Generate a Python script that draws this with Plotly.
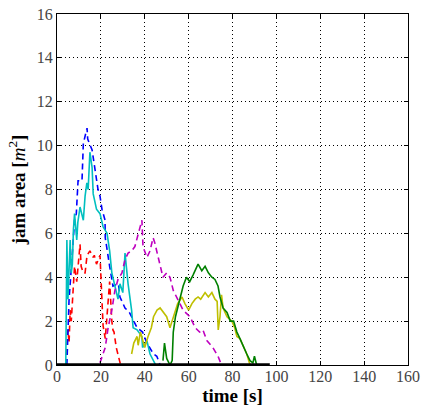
import plotly.graph_objects as go

# ---- data ----
red_t = [4, 5, 5.5, 6, 6.5, 7, 8, 9, 10, 10.5, 11, 12, 12.8, 13.7, 15, 16.5, 17, 18, 19.6, 20.5, 21, 22, 23, 24, 25, 25.5, 26, 27, 28.5, 29]
red_y = [0, 1.6, 1.0, 2.5, 2.0, 3.0, 4.5, 3.8, 5.0, 5.5, 4.5, 4.2, 4.2, 5.0, 5.2, 4.9, 5.0, 4.6, 5.0, 2.5, 1.8, 1.2, 2.5, 3.8, 2.0, 1.6, 1.5, 0.8, 0.2, 0]

blue_t = [4.5, 5, 5.5, 6.8, 7.3, 8, 8.8, 9.6, 11.4, 12, 13.7, 14, 16, 18, 18.7, 19.6, 20.5, 21.9, 22, 24, 25.5, 28, 28.7, 31, 33, 36.5, 39, 41, 44, 45.5, 47]
blue_y = [0, 1.5, 3.0, 4.8, 5.7, 6.6, 6.9, 8.4, 8.4, 10.1, 10.8, 10.3, 9.8, 8.4, 8.0, 7.7, 7.1, 6.6, 5.8, 4.5, 3.6, 3.7, 3.1, 2.6, 2.4, 1.7, 1.5, 1.0, 0.5, 0.4, 0]

cyan_t = [4, 4.5, 5, 5.5, 6, 6.5, 7, 7.5, 8, 9, 9.5, 10.5, 11, 12, 12.8, 13.6, 14.2, 15, 16, 16.5, 18, 19.6, 21, 22.8, 24, 25, 26.4, 27.8, 28.7, 30, 31, 32.4, 34, 34.7, 36.5, 38.7, 39, 41, 42.4, 44, 45]
cyan_y = [0, 5.7, 3.0, 4.9, 5.7, 4.2, 4.6, 6.2, 6.9, 5.7, 6.5, 7.2, 7.0, 6.6, 7.7, 8.3, 8.0, 9.7, 9.0, 7.8, 7.1, 6.9, 6.3, 6.0, 5.2, 4.2, 3.6, 3.0, 3.7, 3.3, 5.1, 3.7, 2.5, 1.7, 1.6, 1.3, 0.8, 1.1, 0.5, 0.2, 0]

mag_t = [19.6, 20.5, 22, 23.3, 25, 26.4, 27.8, 29.6, 31, 32.4, 34, 35.5, 37.8, 38.7, 39.2, 41, 42.4, 43.8, 44.5, 45.6, 47, 48.3, 50, 51.5, 53, 55, 57.5, 60.6, 63, 65, 66.5, 68.4, 71, 73.4, 75]
mag_y = [0.1, 0.4, 0.8, 1.7, 2.5, 3.4, 3.9, 4.2, 4.8, 5.1, 5.2, 5.4, 6.3, 6.6, 5.4, 4.9, 5.2, 5.8, 5.6, 5.1, 4.5, 4.0, 4.2, 4.0, 3.4, 3.0, 2.5, 2.2, 1.7, 1.5, 1.6, 1.1, 0.8, 0.4, 0]

olive_t = [34, 35, 36.5, 37, 38, 39, 40, 41.5, 43, 44, 45.6, 47, 48.3, 50, 51.5, 53, 55, 57, 58.3, 60, 61.5, 63, 64.3, 65.5, 67.5, 69, 70.6, 72, 73, 73.5, 74.3, 75, 75.7, 77.5, 79.7, 81, 82, 83.4, 85, 86.5, 88]
olive_y = [0.5, 1.0, 1.3, 0.9, 1.5, 1.2, 0.8, 1.3, 1.7, 2.2, 2.5, 2.6, 2.4, 2.2, 1.7, 2.2, 2.8, 3.1, 2.8, 2.5, 2.8, 3.0, 3.1, 3.0, 3.3, 3.1, 3.3, 3.0, 2.9, 1.6, 2.2, 3.2, 2.6, 2.2, 2.0, 1.7, 1.3, 1.2, 0.8, 0.5, 0]

green_t = [48.3, 49, 50, 51.5, 52.5, 53, 54, 55, 56, 57.5, 59, 60.5, 62, 63.6, 64.3, 66, 67.5, 69, 70.6, 72, 73.4, 74.3, 75.7, 77.5, 79, 80.5, 82, 83.4, 85, 86.5, 88, 89.3, 90, 91]
green_y = [0.2, 1.0, 0.3, 0, 0.2, 1.5, 2.2, 2.6, 3.0, 3.6, 4.0, 3.8, 4.1, 4.5, 4.6, 4.3, 4.5, 4.2, 4.0, 3.9, 3.6, 3.1, 2.6, 2.4, 2.0, 2.0, 1.5, 1.2, 0.8, 0.5, 0.2, 0.1, 0.4, 0]

black_t = [0, 97]
black_y = [0, 0]

x_ticks = [0, 20, 40, 60, 80, 100, 120, 140, 160]
y_ticks = [0, 2, 4, 6, 8, 10, 12, 14, 16]

FONT = "Liberation Serif"

fig = go.Figure()

def add(t, y, color, dash):
    fig.add_trace(go.Scatter(x=t, y=y, mode="lines",
                             line=dict(color=color, width=1.6, dash=dash),
                             showlegend=False, hoverinfo="skip"))

add(red_t, red_y, "#ff0000", "6px,4px")
add(blue_t, blue_y, "#0000ff", "6px,4px")
add(cyan_t, cyan_y, "#00bfbf", "solid")
add(mag_t, mag_y, "#bf00bf", "6px,4px")
add(olive_t, olive_y, "#bfbf00", "solid")
add(green_t, green_y, "#008000", "solid")
fig.add_trace(go.Scatter(x=black_t, y=black_y, mode="lines",
                         line=dict(color="black", width=3.5),
                         showlegend=False, hoverinfo="skip"))

axis_common = dict(
    showline=True, linecolor="black", linewidth=1, mirror="allticks",
    ticks="inside", ticklen=4, tickcolor="black",
    showgrid=True, gridcolor="black", gridwidth=0.8, griddash="1px,3px",
    zeroline=False, automargin=True,
    tickfont=dict(family=FONT, size=16, color="#444"),
)

fig.update_xaxes(range=[0, 160], tickvals=x_ticks, ticktext=[str(v) for v in x_ticks],
                 ticklabelstandoff=-3,
                 title=dict(text="<b>time [s]</b>", font=dict(family=FONT, size=19, color="black"), standoff=0),
                 **axis_common)
fig.update_yaxes(range=[0, 16], tickvals=y_ticks, ticktext=[str(v) for v in y_ticks],
                 title=dict(text="<b>jam area [</b><i>m</i><sup>2</sup><b>]</b>", font=dict(family=FONT, size=19, color="black"), standoff=6),
                 **axis_common)

fig.update_layout(
    template="none",
    width=424, height=407,
    margin=dict(l=57, r=16, t=14, b=42, autoexpand=False),
    plot_bgcolor="white", paper_bgcolor="white",
)

post = ("document.body.style.margin='0';"
        "document.body.style.overflow='hidden';"
        "document.documentElement.style.overflow='hidden';")

fig.write_html("out.html", config={"displayModeBar": False}, post_script=post)
